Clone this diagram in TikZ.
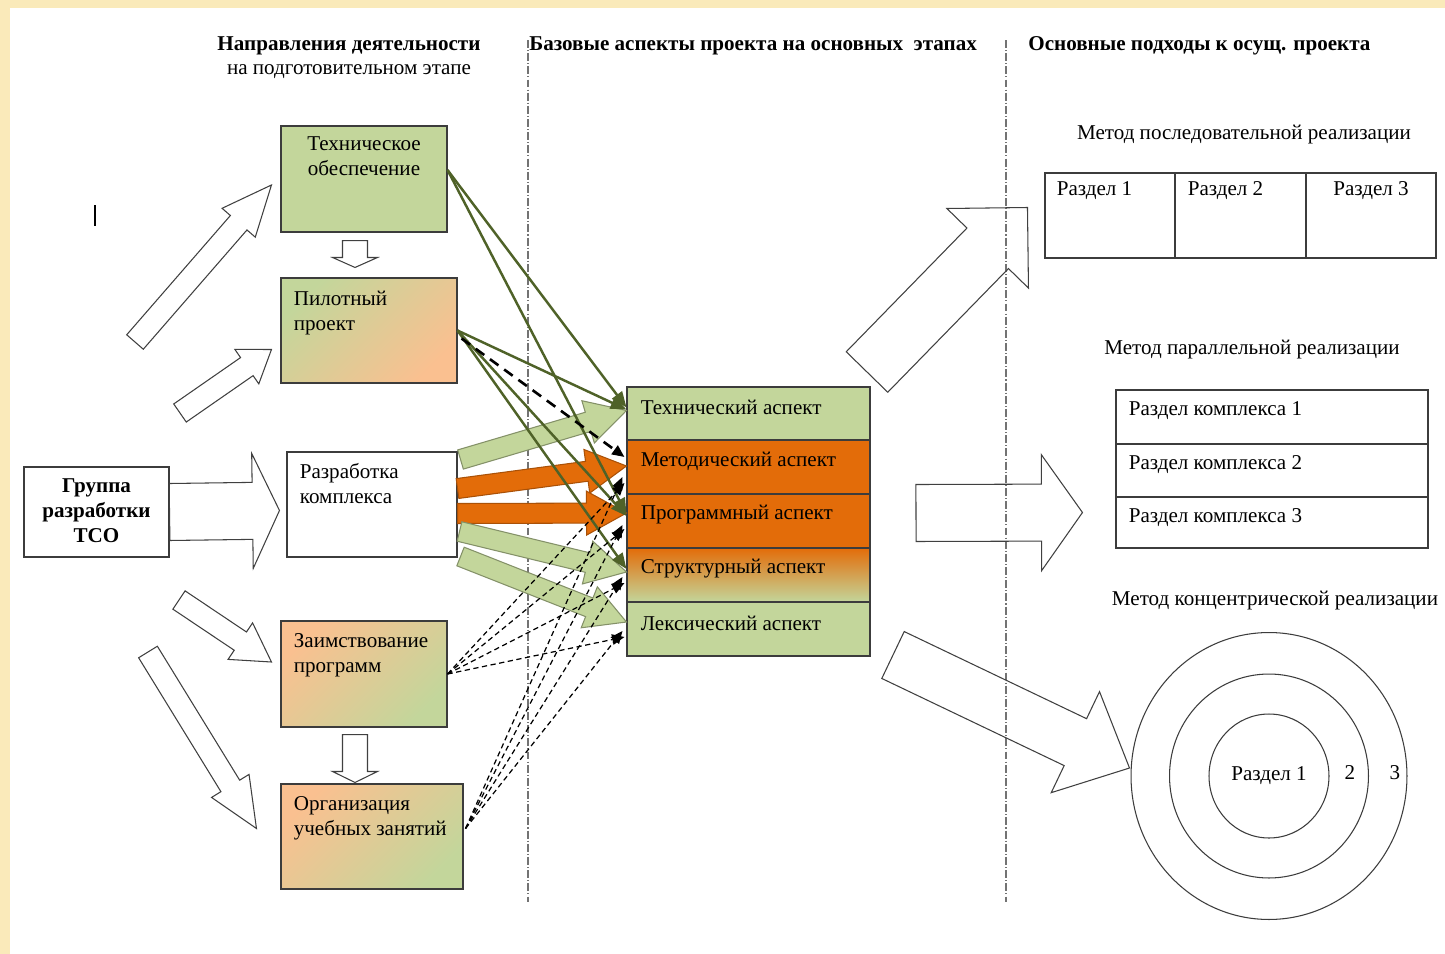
\documentclass[tikz,border=0pt]{standalone}
\usepackage{fontspec}
\setmainfont{Liberation Serif}
\usetikzlibrary{arrows.meta, calc, fit, positioning, shapes.geometric}

\definecolor{boxGreen}{RGB}{195,214,155}
\definecolor{boxPeach}{RGB}{250,192,144}
\definecolor{aspOrange}{RGB}{227,108,9}
\definecolor{lineGreen}{RGB}{79,98,40}
\definecolor{slideYellow}{RGB}{250,234,186}
\definecolor{frameGray}{RGB}{60,60,60}

% hollow / filled block arrow: [style]{tail}{tip}{half shaft}{half head}{head length}
\newcommand{\blockarrow}[6][]{%
  \coordinate (ba) at ($#3!#6!#2$);
  \draw[#1] ($#2!#4!90:#3$) -- ($(ba)!#4!90:#3$) -- ($(ba)!#5!90:#3$) -- #3
    -- ($(ba)!#5!-90:#3$) -- ($(ba)!#4!-90:#3$) -- ($#2!#4!-90:#3$) -- cycle;
}

\begin{document}
\fontsize{12}{14.2}\selectfont
\begin{tikzpicture}[
    x=0.02cm, y=-0.02cm,
    box/.style={rectangle, draw=frameGray, line width=0.6pt, inner sep=0pt},
    boxtext/.style={inner sep=0pt, align=left, anchor=north west},
    asptext/.style={inner sep=0pt, anchor=west},
    title/.style={inner sep=0pt, font=\bfseries\fontsize{12}{14.2}\selectfont},
    sepline/.style={draw=black!55, line width=0.7pt, dash pattern=on 4.5pt off 1.2pt on 0.6pt off 1.2pt},
    hollow/.style={draw=black!75, line width=0.6pt, line join=miter},
    greenarr/.style={draw=lineGreen!70, fill=boxGreen, line width=0.6pt},
    orangearr/.style={draw=aspOrange!75!black, fill=aspOrange, line width=0.6pt},
    link/.style={draw=lineGreen, line width=1.4pt, -{Triangle[length=9pt,width=7pt]}},
    dlink/.style={draw=black, line width=0.7pt, dash pattern=on 3pt off 2pt, -{Triangle[length=7pt,width=6pt]}}
]
    % Background
    \fill[slideYellow] (0,0) rectangle (1445,954);
    \fill[white] (10,8) rectangle (1445,954);
    \useasboundingbox (0,0) rectangle (1445,954);

    % Separators
    \draw[sepline] (528,40) -- (528,902);
    \draw[sepline] (1006,40) -- (1006,902);

    % Titles
    \node[title] (lefttitle) at (349,46) {Направления деятельности};
    \node[inner sep=0pt, below=5pt of lefttitle] (leftsub) {на подготовительном этапе};
    \node[title, anchor=west] (midtitle) at (529,46) {Базовые аспекты проекта на основных\ \ этапах};
    \node[title, anchor=west] (righttitle) at (1028,46) {Основные подходы к осущ. проекта};
    \draw[line width=1.1pt] (95,205) -- (95,226);

    % Left column
    \node[box, fill=white, fit={(24,467) (169,557)}] (grp) {};
    \node[inner sep=0pt, align=center, font=\bfseries] (grptxt) at ($(grp.center)+(0,-1)$) {Группа\\разработки\\ТСО};
    \node[box, fill=boxGreen, fit={(281,126) (447,232)}] (tech) {};
    \node[boxtext, align=center, anchor=north] (techtxt) at ($(tech.north)+(0,11)$) {Техническое\\обеспечение};
    \node[box, top color=boxGreen, bottom color=boxPeach, shading angle=45, fit={(281,278) (457,383)}] (pilot) {};
    \node[boxtext] (pilottxt) at ($(pilot.north west)+(13,13)$) {Пилотный\\проект};
    \node[box, fill=white, fit={(287,452) (457,557)}] (dev) {};
    \node[boxtext] (devtxt) at ($(dev.north west)+(13,12)$) {Разработка\\комплекса};
    \node[box, top color=boxPeach, bottom color=boxGreen, shading angle=45, fit={(281,621) (447,727)}] (borrow) {};
    \node[boxtext] (borrowtxt) at ($(borrow.north west)+(13,13)$) {Заимствование\\программ};
    \node[box, top color=boxPeach, bottom color=boxGreen, shading angle=45, fit={(281,784) (463,889)}] (org) {};
    \node[boxtext] (orgtxt) at ($(org.north west)+(13,13)$) {Организация\\учебных занятий};

    % Aspects
    \node[box, fill=boxGreen, fit={(627,387) (870,440)}] (aTech) {};
    \node[box, fill=aspOrange, fit={(627,440) (870,494)}] (aMeth) {};
    \node[box, fill=aspOrange, fit={(627,494) (870,548)}] (aProg) {};
    \node[box, top color=aspOrange, bottom color=boxGreen, fit={(627,548) (870,602)}] (aStruct) {};
    \node[box, fill=boxGreen, fit={(627,602) (870,656)}] (aLex) {};
    \node[asptext] (aTechtxt) at ($(aTech.west)+(14,-6)$) {Технический аспект};
    \node[asptext] (aMethtxt) at ($(aMeth.west)+(14,-6)$) {Методический аспект};
    \node[asptext] (aProgtxt) at ($(aProg.west)+(14,-6)$) {Программный аспект};
    \node[asptext] (aStructtxt) at ($(aStruct.west)+(14,-6)$) {Структурный аспект};
    \node[asptext] (aLextxt) at ($(aLex.west)+(14,-6)$) {Лексический аспект};

    % Right column
    \node[inner sep=0pt] (seqtitle) at (1244,135) {Метод последовательной реализации};
    \node[box, fit={(1045,173) (1175,258)}] (seq1) {};
    \node[box, fit={(1175,173) (1306,258)}] (seq2) {};
    \node[box, fit={(1306,173) (1436,258)}] (seq3) {};
    \node[asptext] (seq1txt) at ($(seq1.north west)+(12,18)$) {Раздел 1};
    \node[asptext] (seq2txt) at ($(seq2.north west)+(13,18)$) {Раздел 2};
    \node[inner sep=0pt] (seq3txt) at ($(seq3.north)+(0,18)$) {Раздел 3};
    \node[inner sep=0pt] (partitle) at (1252,350) {Метод параллельной реализации};
    \node[box, fit={(1116,390) (1428,444)}] (par1) {};
    \node[box, fit={(1116,444) (1428,497)}] (par2) {};
    \node[box, fit={(1116,497) (1428,548)}] (par3) {};
    \node[asptext] (par1txt) at ($(par1.north west)+(13,21)$) {Раздел комплекса 1};
    \node[asptext] (par2txt) at ($(par2.north west)+(13,21)$) {Раздел комплекса 2};
    \node[asptext] (par3txt) at ($(par3.north west)+(13,21)$) {Раздел комплекса 3};
    \node[inner sep=0pt] (contitle) at (1275,601) {Метод концентрической реализации};
    \node[ellipse, draw=frameGray, line width=0.6pt, minimum width=5.52cm, minimum height=5.74cm] (ring3) at (1269,776) {};
    \node[ellipse, draw=frameGray, line width=0.6pt, minimum width=3.98cm, minimum height=4.08cm] (ring2) at (1269,776) {};
    \node[ellipse, draw=frameGray, line width=0.6pt, inner sep=0pt, minimum width=2.4cm, minimum height=2.48cm] (ring1) at (1269,776) {Раздел 1};
    \node[inner sep=0pt] (ring2txt) at (1350,773) {2};
    \node[inner sep=0pt] (ring3txt) at (1395,773) {3};

    % Hollow arrows, left
    \coordinate (upAtail) at (135,342);
    \coordinate (upAtip) at ($(tech.west)+(-9,6)$);
    \coordinate (upBtail) at (180,413);
    \coordinate (upBtip) at ($(pilot.west)+(-9,19)$);
    \coordinate (dnAtail) at (179,600);
    \coordinate (dnAtip) at ($(borrow.west)+(-9,-12)$);
    \coordinate (dnBtail) at (148,652);
    \coordinate (dnBtip) at ($(org.west)+(-24,-8)$);
    \coordinate (grptip) at ($(dev.west)+(-7,6)$);
    \blockarrow[hollow]{(grp.east)}{(grptip)}{0.57cm}{1.15cm}{0.54cm}
    \blockarrow[hollow]{(upAtail)}{(upAtip)}{0.22cm}{0.44cm}{1.0cm}
    \blockarrow[hollow]{(upBtail)}{(upBtip)}{0.22cm}{0.42cm}{0.6cm}
    \blockarrow[hollow]{(dnAtail)}{(dnAtip)}{0.22cm}{0.44cm}{0.75cm}
    \blockarrow[hollow]{(dnBtail)}{(dnBtip)}{0.22cm}{0.44cm}{1.0cm}
    \coordinate (stepAtop) at ($(tech.south)+(-9,8)$);
    \coordinate (stepAbot) at ($(pilot.north)+(-14,-10)$);
    \blockarrow[hollow]{(stepAtop)}{(stepAbot)}{0.25cm}{0.45cm}{0.2cm}
    \coordinate (stepBtop) at ($(borrow.south)+(-9,7)$);
    \coordinate (stepBbot) at ($(org.north)+(-17,-1)$);
    \blockarrow[hollow]{(stepBtop)}{(stepBbot)}{0.25cm}{0.45cm}{0.22cm}

    % Fan of arrows from dev to aspects
    \coordinate (dv1) at ($(dev.east)+(3,-45)$);
    \coordinate (dv2) at ($(dev.east)+(0,-16)$);
    \coordinate (dv3) at ($(dev.east)+(0,9)$);
    \coordinate (dv4) at ($(dev.east)+(2,27)$);
    \coordinate (dv5) at ($(dev.east)+(3,52)$);
    \coordinate (tp1) at ($(aTech.west)+(0,-3)$);
    \coordinate (tp2) at ($(aMeth.west)+(0,-1)$);
    \coordinate (tp3) at ($(aProg.west)+(0,-8)$);
    \coordinate (tp4) at ($(aStruct.west)+(0,-3)$);
    \coordinate (tp5) at ($(aLex.west)+(0,-7)$);
    \blockarrow[greenarr]{(dv1)}{(tp1)}{0.2cm}{0.44cm}{0.8cm}
    \blockarrow[orangearr]{(dv2)}{(tp2)}{0.2cm}{0.44cm}{0.8cm}
    \blockarrow[orangearr]{(dv3)}{(tp3)}{0.2cm}{0.44cm}{0.8cm}
    \blockarrow[greenarr]{(dv4)}{(tp4)}{0.2cm}{0.44cm}{0.8cm}
    \blockarrow[greenarr]{(dv5)}{(tp5)}{0.2cm}{0.44cm}{0.8cm}

    % Links to aspects
    \draw[link] ($(tech.east)+(0,-9)$) -- ($(aTech.west)+(0,-6)$);
    \draw[link] ($(tech.east)+(0,-9)$) -- ($(aProg.west)+(0,-7)$);
    \draw[link] (pilot.east) -- ($(aTech.west)+(0,-4)$);
    \draw[link] (pilot.east) -- ($(aProg.west)+(0,-5)$);
    \draw[link] (pilot.east) -- ($(aStruct.west)+(0,-6)$);
    \draw[dlink, line width=1.5pt, dash pattern=on 6pt off 4pt] ($(pilot.east)+(4,8)$) -- ($(aMeth.west)+(-2,-10)$);
    \draw[dlink] (borrow.east) -- ($(aMeth.west)+(-2,16)$);
    \draw[dlink] (borrow.east) -- ($(aProg.west)+(-2,8)$);
    \draw[dlink] (borrow.east) -- ($(aStruct.west)+(-2,8)$);
    \draw[dlink] (borrow.east) -- ($(aLex.west)+(-2,8)$);
    \draw[dlink] ($(org.east)+(2,-8)$) -- ($(aMeth.west)+(-4,10)$);
    \draw[dlink] ($(org.east)+(2,-8)$) -- ($(aProg.west)+(-4,4)$);
    \draw[dlink] ($(org.east)+(2,-8)$) -- ($(aStruct.west)+(-4,2)$);
    \draw[dlink] ($(org.east)+(2,-8)$) -- ($(aLex.west)+(-4,2)$);

    % Hollow arrows, right
    \coordinate (seqtail) at (867,372);
    \coordinate (seqtip) at ($(seq1.west)+(-17,-8)$);
    \coordinate (partail) at (916,513);
    \coordinate (partip) at ($(par3.west)+(-33,-10)$);
    \coordinate (contail) at (893,655);
    \coordinate (contip) at ($(ring3.west)+(-1,-8)$);
    \blockarrow[hollow]{(seqtail)}{(seqtip)}{0.58cm}{1.14cm}{1.14cm}
    \blockarrow[hollow]{(partail)}{(partip)}{0.57cm}{1.16cm}{0.82cm}
    \blockarrow[hollow]{(contail)}{(contip)}{0.52cm}{1.12cm}{1.2cm}
\end{tikzpicture}
\end{document}
